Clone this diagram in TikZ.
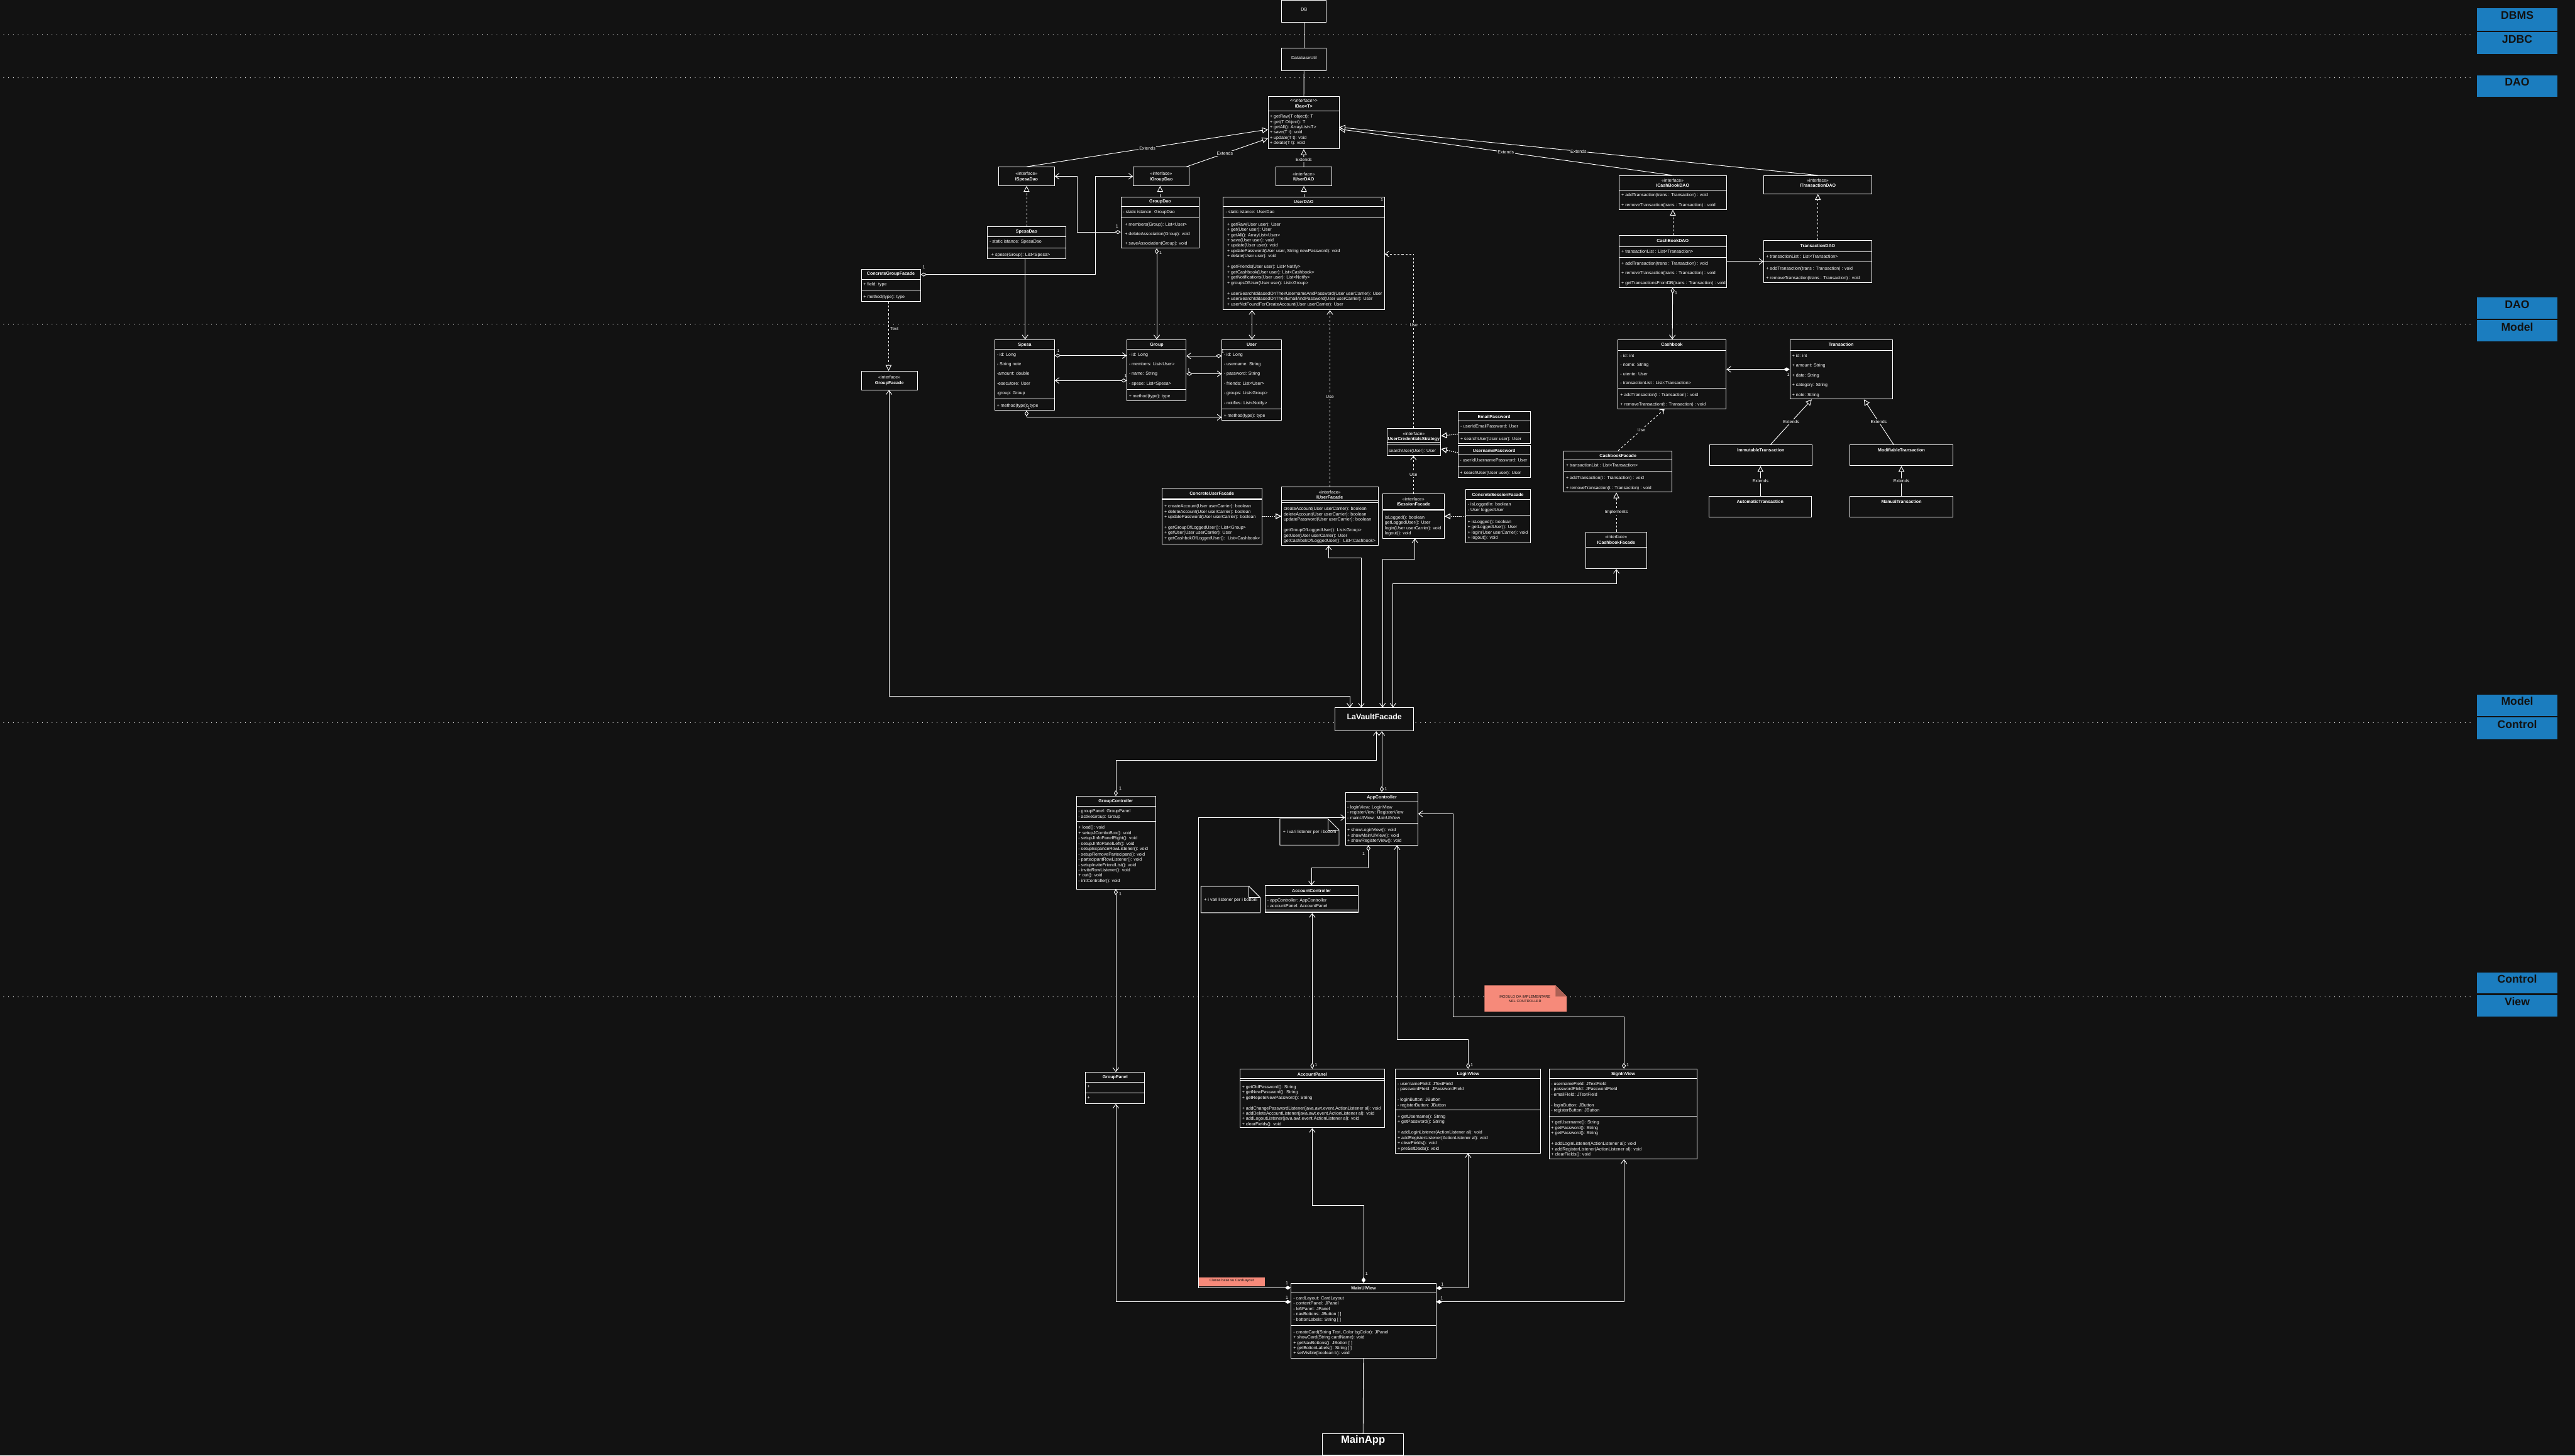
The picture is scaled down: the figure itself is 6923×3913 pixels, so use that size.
\documentclass[tikz,border=0pt]{standalone}
\usepackage{fontspec}
\setmainfont{Liberation Sans}
\usetikzlibrary{arrows.meta,positioning,fit,calc}
\definecolor{bgc}{RGB}{18,18,18}
\definecolor{layerblue}{RGB}{27,125,191}
\definecolor{notered}{RGB}{246,138,122}

\begin{document}
\begin{tikzpicture}[
  x=0.02cm, y=-0.02cm,
  wire/.style={draw=white, line width=0.9pt},
  cls/.style ={draw=white, line width=0.9pt, fill=bgc, inner sep=0pt,
               text=white, font=\fontsize{6.8}{8}\selectfont},
  layer/.style={fill=layerblue, inner sep=0pt, text=bgc,
               font=\fontsize{17}{19}\selectfont\bfseries},
  txt/.style ={anchor=north west, inner sep=0pt, align=left, text=white,
               font=\fontsize{6.8}{8.14}\selectfont},
  wide/.style={txt, font=\fontsize{6.8}{14.8}\selectfont},
  hdr/.style ={inner sep=0pt, align=center, text=white,
               font=\fontsize{6.8}{8}\selectfont},
  ttl/.style ={hdr, font=\fontsize{6.8}{8}\selectfont\bfseries},
  mult/.style={inner sep=0pt, text=white, font=\fontsize{6.8}{8}\selectfont},
  lbl/.style ={inner sep=1.5pt, fill=bgc, text=white, font=\fontsize{6.8}{8}\selectfont},
  dotsep/.style={draw=white, line width=1.2pt, line cap=round, dash pattern=on 0pt off 7.4pt},
  assoc/.style={wire, -{Straight Barb[length=6pt,width=9pt]}},
  both/.style ={wire, {Straight Barb[length=6pt,width=9pt]}-{Straight Barb[length=6pt,width=9pt]}},
  agg/.style  ={wire, {Diamond[fill=bgc,length=9pt,width=6pt]}-{Straight Barb[length=6pt,width=9pt]}},
  comp/.style ={wire, {Diamond[fill=white,length=9pt,width=6pt]}-{Straight Barb[length=6pt,width=9pt]}},
  ext/.style  ={wire, -{Triangle[fill=bgc,length=9pt,width=9pt]}},
  real/.style ={ext, dashed},
  dotreal/.style={ext, line width=1.2pt, dash pattern=on 1.5pt off 1.5pt},
  use/.style  ={assoc, dashed}
]

% background and layers
\fill[bgc] (0,0) rectangle (6923,3913);
\useasboundingbox (0,0) rectangle (6923,3913);

\draw[dotsep] (10,93)   -- (6650,93);
\draw[dotsep] (10,209)  -- (6650,209);
\draw[dotsep] (10,872)  -- (6650,872);
\draw[dotsep] (10,1943) -- (6650,1943);
\draw[dotsep] (10,2680) -- (6650,2680);

\node[layer, fit={(6660,22) (6875,82)}]     (lydbms)  {DBMS};
\node[layer, fit={(6660,86) (6875,146)}]    (lyjdbc)  {JDBC};
\node[layer, fit={(6660,203) (6875,260)}]   (lydao)   {DAO};
\node[layer, fit={(6660,800) (6875,857)}]   (lydaob)  {DAO};
\node[layer, fit={(6660,861) (6875,918)}]   (lymodel) {Model};
\node[layer, fit={(6660,1868) (6875,1925)}] (lymodelb){Model};
\node[layer, fit={(6660,1929) (6875,1987)}] (lyctrl)  {Control};
\node[layer, fit={(6660,2614) (6875,2671)}] (lyctrlb) {Control};
\node[layer, fit={(6660,2675) (6875,2733)}] (lyview)  {View};

% DBMS / JDBC
\node[cls, fit={(3446,0) (3566,60)}]    (db)     {DB};
\node[cls, fit={(3446,130) (3566,190)}] (dbutil) {DatabaseUtil};

% DAO interfaces
\node[cls, fit={(3410,260) (3600,400)}] (idao) {};
\draw[wire] (3410,299) -- (3600,299);
\node[hdr] at (3505,278) {\itshape <{}<Interface>{}>\\\textbf{IDao<T>}};
\node[txt] at (3414,308) {+ getRaw(T object): T\\+ get(T Object): T\\+ getAll(): ArrayList<T>\\
  + save(T t): void\\+ update(T t): void\\+ delate(T t): void};

\node[cls, fit={(2685,449) (2835,499)}] (ispesadao) {};
\node[hdr] at (2760,475) {«interface»\\\textbf{ISpesaDao}};
\node[cls, fit={(3047,449) (3197,499)}] (igroupdao) {};
\node[hdr] at (3122,475) {«interface»\\\textbf{IGroupDao}};
\node[cls, fit={(3430,449) (3581,499)}] (iuserdao) {};
\node[hdr] at (3505,475) {«interface»\\\textbf{IUserDAO}};

\node[cls, fit={(4353,472) (4642,563)}] (icashbookdao) {};
\draw[wire] (4353,511) -- (4642,511);
\node[hdr] at (4497,492) {«interface»\\\textbf{ICashBookDAO}};
\node[wide] at (4359,520) {+ addTransaction(trans : Transaction) : void\\+ removeTransaction(trans : Transaction) : void};
\node[cls, fit={(4742,472) (5033,521)}] (itransactiondao) {};
\node[hdr] at (4887,492) {«interface»\\\textbf{ITransactionDAO}};

% DAO classes
\node[cls, fit={(2655,610) (2865,696)}] (spesadao) {};
\draw[wire] (2655,636) -- (2865,636);  \draw[wire] (2655,666) -- (2865,666);
\node[ttl] at (2760,623) {SpesaDao};
\node[txt] at (2660,645) {- static istance: SpesaDao};
\node[txt] at (2665,679) {+ spese(Group): List<Spesa>};

\node[cls, fit={(3014,529) (3224,667)}] (groupdao) {};
\draw[wire] (3014,555) -- (3224,555);  \draw[wire] (3014,585) -- (3224,585);
\node[ttl] at (3119,542) {GroupDao};
\node[txt] at (3019,564) {- static istance: GroupDao};
\node[wide] at (3024,598) {+ members(Group): List<User>\\+ delateAssociation(Group): void\\+ saveAssociation(Group): void};

\node[cls, fit={(3289,529) (3722,833)}] (userdao) {};
\draw[wire] (3289,555) -- (3722,555);  \draw[wire] (3289,585) -- (3722,585);
\node[ttl] at (3505,542) {UserDAO};
\node[mult] at (3715,537) {1};
\node[txt] at (3295,564) {- static istance: UserDao};
\node[txt] at (3299,598) {+ getRaw(User user): User\\+ get(User user): User\\+ getAll(): ArrayList<User>\\
  + save(User user): void\\+ update(User user): void\\+ updatePassword(User user, String newPassword): void\\
  + delate(User user): void\\[8.14pt]+ getFriends(User user): List<Notify>\\+ getCashbook(User user): List<Cashbook>\\
  + getNotifications(User user): List<Notify>\\+ groupsOfUser(User user): List<Group>\\[8.14pt]
  + userSearchIdBasedOnTheirUsernameAndPassword(User userCarrier): User\\
  + userSearchIdBasedOnTheirEmailAndPassword(User userCarrier): User\\
  + userNotFoundForCreateAccount(User userCarrier): User};

\node[cls, fit={(4353,633) (4642,773)}] (cashbookdao) {};
\draw[wire] (4353,663) -- (4642,663);  \draw[wire] (4353,692) -- (4642,692);
\node[ttl] at (4497,647) {CashBookDAO};
\node[txt] at (4359,672) {+ transactionList : List<Transaction>};
\node[wide] at (4359,703) {+ addTransaction(trans : Transaction) : void\\+ removeTransaction(trans : Transaction) : void\\
  + getTransactionsFromDB(trans : Transaction) : void};

\node[cls, fit={(4742,647) (5033,760)}] (transactiondao) {};
\draw[wire] (4742,677) -- (5033,677);  \draw[wire] (4742,704) -- (5033,704);
\node[ttl] at (4887,660) {TransactionDAO};
\node[txt] at (4748,685) {+ transactionList : List<Transaction>};
\node[wide] at (4748,717) {+ addTransaction(trans : Transaction) : void\\+ removeTransaction(trans : Transaction) : void};

\node[cls, fit={(2316,724) (2475,810)}] (cgroupfacade) {};
\draw[wire] (2316,751) -- (2475,751);  \draw[wire] (2316,780) -- (2475,780);
\node[ttl] at (2395,737) {ConcreteGroupFacade};
\node[mult] at (2484,718) {1};
\node[txt] at (2321,759) {+ field: type};
\node[txt] at (2321,793) {+ method(type): type};

% Model
\node[cls, fit={(2316,998) (2466,1048)}] (groupfacade) {};
\node[hdr] at (2391,1023) {«interface»\\\textbf{GroupFacade}};

\node[cls, fit={(2675,913) (2835,1103)}] (spesa) {};
\draw[wire] (2675,939) -- (2835,939);  \draw[wire] (2675,1073) -- (2835,1073);
\node[ttl] at (2755,927) {Spesa};
\node[wide] at (2680,948) {- id: Long\\- String note\\-amount: double\\-esecutore: User\\-group: Group};
\node[txt] at (2680,1086) {+ method(type): type};

\node[cls, fit={(3030,913) (3189,1077)}] (group) {};
\draw[wire] (3030,939) -- (3189,939);  \draw[wire] (3030,1047) -- (3189,1047);
\node[ttl] at (3110,927) {Group};
\node[wide] at (3035,948) {- id: Long\\- members: List<User>\\- name: String\\- spese: List<Spesa>};
\node[txt] at (3035,1060) {+ method(type): type};

\node[cls, fit={(3285,913) (3445,1129)}] (user) {};
\draw[wire] (3285,939) -- (3445,939);  \draw[wire] (3285,1099) -- (3445,1099);
\node[ttl] at (3365,927) {User};
\node[wide] at (3290,948) {- id: Long\\- username: String\\- password: String\\- friends: List<User>\\
  - groups: List<Group>\\- notifies: List<Notify>};
\node[txt] at (3290,1112) {+ method(type): type};

\node[cls, fit={(4350,913) (4641,1099)}] (cashbook) {};
\draw[wire] (4350,943) -- (4641,943);  \draw[wire] (4350,1043) -- (4641,1043);
\node[ttl] at (4495,927) {Cashbook};
\node[txt, font=\fontsize{6.8}{13.7}\selectfont] at (4356,952) {- id: int\\- nome: String\\- utente: User\\
  - transactionList : List<Transaction>};
\node[wide] at (4356,1056) {+ addTransaction(t : Transaction) : void\\+ removeTransaction(t : Transaction) : void};

\node[cls, fit={(4812,913) (5088,1073)}] (transaction) {};
\draw[wire] (4812,943) -- (5088,943);
\node[ttl] at (4950,927) {Transaction};
\node[wide] at (4818,952) {+ id: int\\+ amount: String\\+ date: String\\+ category: String\\+ note: String};

\node[cls, fit={(4597,1196) (4871,1252)}] (immutable) {};
\node[ttl] at (4734,1210) {ImmutableTransaction};
\node[cls, fit={(4974,1196) (5250,1252)}] (modifiable) {};
\node[ttl] at (5112,1210) {ModifiableTransaction};
\node[cls, fit={(4595,1334) (4870,1390)}] (automatic) {};
\node[ttl] at (4732,1348) {AutomaticTransaction};
\node[cls, fit={(4974,1334) (5250,1390)}] (manual) {};
\node[ttl] at (5112,1348) {ManualTransaction};

% Facades
\node[cls, fit={(4205,1212) (4495,1323)}] (cashbookfacade) {};
\draw[wire] (4205,1237) -- (4495,1237);  \draw[wire] (4205,1267) -- (4495,1267);
\node[ttl] at (4350,1225) {CashbookFacade};
\node[txt] at (4210,1246) {+ transactionList : List<Transaction>};
\node[wide] at (4210,1280) {+ addTransaction(t : Transaction) : void\\+ removeTransaction(t : Transaction) : void};

\node[cls, fit={(4264,1430) (4427,1529)}] (icashbookfacade) {};
\draw[wire] (4264,1471) -- (4427,1471);
\node[hdr] at (4345,1451) {«interface»\\\textbf{ICashbookFacade}};

\node[cls, draw=white!60, line width=1.3pt, fit={(3729,1152) (3873,1224)}] (ucs) {};
\draw[white!60, line width=1.3pt] (3729,1189) -- (3873,1189);  \draw[white!60, line width=1.3pt] (3729,1194) -- (3873,1194);
\node[hdr] at (3801,1174) {«interface»\\\textbf{UserCredentialsStrategy}};
\node[txt] at (3733,1207) {searchUser(User): User};

\node[cls, fit={(3921,1106) (4114,1192)}] (emailpw) {};
\draw[wire] (3921,1132) -- (4114,1132);  \draw[wire] (3921,1162) -- (4114,1162);
\node[ttl] at (4017,1120) {EmailPassword};
\node[txt] at (3926,1141) {- userIdEmailPassword: User};
\node[txt] at (3926,1175) {+ searchUser(User user): User};

\node[cls, fit={(3920,1197) (4114,1283)}] (usernamepw) {};
\draw[wire] (3920,1223) -- (4114,1223);  \draw[wire] (3920,1253) -- (4114,1253);
\node[ttl] at (4017,1211) {UsernamePassword};
\node[txt] at (3925,1232) {- userIdUsernamePassword: User};
\node[txt] at (3925,1266) {+ searchUser(User user): User};

\node[cls, fit={(3718,1328) (3883,1447)}] (isessionfacade) {};
\draw[wire] (3718,1369) -- (3883,1369);  \draw[wire] (3718,1373) -- (3883,1373);
\node[hdr] at (3800,1349) {«interface»\\\textbf{ISessionFacade}};
\node[txt] at (3723,1386) {isLogged(): boolean\\getLoggedUser(): User\\login(User userCarrier): void\\logout(): void};

\node[cls, fit={(3941,1316) (4114,1459)}] (csessionfacade) {};
\draw[wire] (3941,1342) -- (4114,1342);  \draw[wire] (3941,1385) -- (4114,1385);
\node[ttl] at (4027,1330) {ConcreteSessionFacade};
\node[txt] at (3946,1351) {- isLoggedIn: boolean\\- User loggedUser};
\node[txt] at (3946,1398) {+ isLogged(): boolean\\+ getLoggedUser(): User\\+ login(User userCarrier): void\\+ logout(): void};

\node[cls, fit={(3124,1313) (3393,1462)}] (cuserfacade) {};
\draw[wire] (3124,1339) -- (3393,1339);  \draw[wire] (3124,1343) -- (3393,1343);
\node[ttl] at (3258,1327) {ConcreteUserFacade};
\node[txt] at (3130,1356) {+ createAccount(User userCarrier): boolean\\+ deleteAccount(User userCarrier): boolean\\
  + updatePassword(User userCarrier): boolean\\[8.14pt]+ getGroupOfLoggedUser(): List<Group>\\
  + getUser(User userCarrier): User\\+ getCashbokOfLoggedUser():~ List<Cashbook>};

\node[cls, fit={(3446,1309) (3705,1466)}] (iuserfacade) {};
\draw[wire] (3446,1347) -- (3705,1347);  \draw[wire] (3446,1351) -- (3705,1351);
\node[hdr] at (3575,1330) {«interface»\\\textbf{IUserFacade}};
\node[txt] at (3451,1363) {createAccount(User userCarrier): boolean\\deleteAccount(User userCarrier): boolean\\
  updatePassword(User userCarrier): boolean\\[8.14pt]getGroupOfLoggedUser(): List<Group>\\
  getUser(User userCarrier): User\\getCashbokOfLoggedUser():~ List<Cashbook>};

\node[cls, font=\fontsize{12}{14}\selectfont\bfseries, fit={(3589,1903) (3801,1965)}] (lavault) {LaVaultFacade};

% Control
\node[cls, fit={(2894,2141) (3107,2390)}] (gcontroller) {};
\draw[wire] (2894,2167) -- (3107,2167);  \draw[wire] (2894,2208) -- (3107,2208);
\node[ttl] at (3000,2154) {GroupController};
\node[txt] at (2899,2176) {- groupPanel: GroupPanel\\- activeGroup: Group};
\node[txt] at (2899,2220) {+ load(): void\\+ setupJComboBox(): void\\- setupJInfoPanelRight(): void\\- setupJInfoPanelLeft(): void\\
  - setupExpanceRowListener(): void\\- setupRemovePartecipant(): void\\- partecipantRowListener(): void\\
  - setupInviteFriendList(): void\\- inviteRowListener(): void\\+ out(): void\\- initController(): void};

\node[cls, fit={(3617,2130) (3812,2272)}] (appcontroller) {};
\draw[wire] (3617,2156) -- (3812,2156);  \draw[wire] (3617,2214) -- (3812,2214);
\node[ttl] at (3715,2144) {AppController};
\node[txt] at (3622,2165) {- loginView: LoginView\\- registerView: RegisterView\\- mainUIView: MainUIView};
\node[txt] at (3622,2227) {+ showLoginView(): void\\+ showMainUIView(): void\\+ showRegisterView(): void};

\draw[wire, fill=bgc] (3441,2201) -- (3570,2201) -- (3600,2231) -- (3600,2272) -- (3441,2272) -- cycle;
\draw[wire] (3570,2201) -- (3570,2231) -- (3600,2231);
\node[mult, anchor=west] (noteapp) at (3449,2237) {+ i vari listener per i bottoni};
\draw[wire, fill=bgc] (3229,2383) -- (3358,2383) -- (3388,2413) -- (3388,2454) -- (3229,2454) -- cycle;
\draw[wire] (3358,2383) -- (3358,2413) -- (3388,2413);
\node[mult, anchor=west] (noteacc) at (3237,2419) {+ i vari listener per i bottoni};

\node[cls, fit={(3401,2381) (3652,2454)}] (acccontroller) {};
\draw[wire] (3401,2407) -- (3652,2407);  \draw[wire] (3401,2447) -- (3652,2447);  \draw[wire] (3401,2451) -- (3652,2451);
\node[ttl] at (3526,2395) {AccountController};
\node[txt] at (3407,2416) {- appController: AppController\\- accountPanel: AccountPanel};

\fill[notered] (3991,2649) -- (4182,2649) -- (4212,2679) -- (4212,2720) -- (3991,2720) -- cycle;
\fill[notered!70!black] (4182,2649) -- (4182,2679) -- (4212,2679) -- cycle;
\node[inner sep=0pt, text=bgc, font=\fontsize{5.5}{6.5}\selectfont, align=center]
      (notectrl) at (4100,2686) {MODULO DA IMPLEMENTARE\\NEL CONTROLLER};

% View
\node[cls, fit={(2918,2883) (3077,2967)}] (grouppanel) {};
\draw[wire] (2918,2909) -- (3077,2909);  \draw[wire] (2918,2938) -- (3077,2938);
\node[ttl] at (2998,2896) {GroupPanel};
\node[txt] at (2923,2918) {+};
\node[txt] at (2923,2948) {+};

\node[cls, fit={(3333,2874) (3722,3032)}] (accpanel) {};
\draw[wire] (3333,2900) -- (3722,2900);  \draw[wire] (3333,2904) -- (3722,2904);
\node[ttl] at (3528,2888) {AccountPanel};
\node[txt] at (3339,2917) {+ getOldPassword(): String\\+ getNewPassword(): String\\+ getRepeteNewPassword(): String\\[8.14pt]
  + addChangePasswordListener(java.awt.event.ActionListener al): void\\
  + addDeleteAccountListener(java.awt.event.ActionListener al): void\\
  + addLogoutListener(java.awt.event.ActionListener al): void\\+ clearFields(): void};

\node[cls, fit={(3752,2874) (4142,3100)}] (loginview) {};
\draw[wire] (3752,2900) -- (4142,2900);  \draw[wire] (3752,2984) -- (4142,2984);
\node[ttl] at (3947,2888) {LoginView};
\node[txt] at (3757,2909) {- usernameFIeld: JTextField\\- passwordFIeld: JPasswordFIeld\\[8.14pt]
  - loginButton: JButton\\- registerButton: JButton};
\node[txt] at (3757,2997) {+ getUsername(): String\\+ getPassword(): String\\[8.14pt]
  + addLoginListener(ActionListener al): void\\+ addRegisterListener(ActionListener al): void\\
  + clearFields(): void\\+ preSetDada(): void};

\node[cls, fit={(4165,2874) (4562,3116)}] (signinview) {};
\draw[wire] (4165,2900) -- (4562,2900);  \draw[wire] (4165,3000) -- (4562,3000);
\node[ttl] at (4364,2888) {SignInView};
\node[txt] at (4170,2909) {- usernameFIeld: JTextField\\- passwordFIeld: JPasswordFIeld\\- emailFIeld: JTextField\\[8.14pt]
  - loginButton: JButton\\- registerButton: JButton};
\node[txt] at (4170,3013) {+ getUsername(): String\\+ getPassword(): String\\+ getPassword(): String\\[8.14pt]
  + addLoginListener(ActionListener al): void\\+ addRegisterListener(ActionListener al): void\\+ clearFields(): void};

\node[cls, fit={(3471,3450) (3861,3651)}] (mainui) {};
\draw[wire] (3471,3476) -- (3861,3476);  \draw[wire] (3471,3563) -- (3861,3563);
\node[ttl] at (3666,3463) {MainUIView};
\node[txt] at (3477,3485) {- cardLayout: CardLayout\\- contentPanel: JPanel\\- leftPanel: JPanel\\
  - navBottons: JButton [ ]\\- bottonLabels: String [ ]};
\node[txt] at (3477,3576) {- createCard(String Text, Color bgColor): JPanel\\+ showCard(String cardName): void\\
  + getNavBottons(): JBotton [ ]\\+ getBottonLabels(): String [ ]\\+ setVisible(boolean b): void};

\node[cls, font=\fontsize{16}{18}\selectfont\bfseries, fit={(3556,3855) (3773,3912)}] (mainapp) {MainApp};

% Arrows DB / DAO
\draw[wire] (db) -- (dbutil);
\draw[wire] (dbutil) -- (idao);
\draw[ext] (ispesadao.north) -- node[lbl, pos=0.5]{Extends} (idao.west |- 0,348);
\draw[ext] (igroupdao.north -| 3190,0) -- node[lbl, pos=0.47]{Extends} (idao.west |- 0,372);
\draw[ext] (iuserdao) -- node[lbl, pos=0.4]{Extends} (idao);
\draw[ext] (icashbookdao.north -| 4496,0) -- node[lbl, pos=0.5]{Extends} (idao.east |- 0,347);
\draw[ext] (itransactiondao.north -| 4887,0) -- node[lbl, pos=0.5]{Extends} (idao.east |- 0,342);

\draw[real] (spesadao) -- (ispesadao);
\draw[real] (groupdao.north) -- (groupdao.north |- igroupdao.south);
\draw[real] (userdao) -- (iuserdao);
\draw[real] (cashbookdao) -- (icashbookdao);
\draw[real] (transactiondao) -- (itransactiondao);

\draw[agg] (groupdao.west |- 0,624) -- (2896,624) |- (ispesadao.east |- 0,474);
\node[mult] at (3003,609) {1};
\draw[agg] (cgroupfacade.east |- 0,738) -- (2945,738) |- (igroupdao.west |- 0,474);
\draw[real] (cgroupfacade.south -| 2389,0) -- node[mult, right=2pt, pos=0.39]{Text} (groupfacade.north -| 2389,0);
\draw[assoc] (spesadao.south -| 2756,0) -- (spesa.north -| 2756,0);
\draw[agg] (groupdao.south -| 3110,0) -- (group.north -| 3110,0);
\node[mult] at (3120,680) {1};
\draw[both] (userdao.south -| 3366,0) -- (user.north -| 3366,0);
\draw[use] (ucs.north) -- node[lbl, pos=0.59]{Use} (ucs.north |- 0,683) -- (userdao.east |- 0,683);
\draw[use] (iuserfacade.north) -- node[lbl, pos=0.51]{Use} (iuserfacade.north |- userdao.south);
\draw[assoc] (cashbookdao.east |- 0,703) -- (transactiondao.west |- 0,703);
\draw[agg] (cashbookdao) -- (cashbook);
\node[mult] at (4506,787) {1};

% Arrows Model
\draw[agg] (spesa.east |- 0,956) -- (group.west |- 0,956);
\node[mult] at (2845,943) {1};
\draw[agg] (group.west |- 0,1023) -- (spesa.east |- 0,1023);
\node[mult] at (3026,1010) {1};
\draw[agg] (user.west |- 0,957) -- (group.east |- 0,957);
\node[mult] at (3287,945) {1};
\draw[agg] (group.east |- 0,1005) -- (user.west |- 0,1005);
\node[mult] at (3196,995) {1};
\draw[agg] (spesa.south -| 2760,0) -- (2760,1122) -- (user.west |- 0,1122);
\node[mult] at (2766,1095) {1};
\draw[comp] (transaction.west |- 0,993) -- (cashbook.east |- 0,993);
\node[mult] at (4808,1007) {1};
\draw[ext] (immutable.north -| 4760,0) -- node[lbl, pos=0.5]{Extends} (transaction.south -| 4871,0);
\draw[ext] (modifiable.north -| 5091,0) -- node[lbl, pos=0.5]{Extends} (transaction.south -| 5011,0);
\draw[ext] (automatic.north -| 4733,0) -- node[lbl, pos=0.5]{Extends} (immutable.south -| 4733,0);
\draw[ext] (manual.north -| 5112,0) -- node[lbl, pos=0.5]{Extends} (modifiable.south -| 5112,0);
\draw[use] (cashbookfacade.north -| 4351,0) -- node[lbl, pos=0.5]{Use} (cashbook.south -| 4475,0);
\draw[real] (icashbookfacade) -- node[lbl, pos=0.49]{Implements} (icashbookfacade |- cashbookfacade.south);
\draw[dotreal] (emailpw.west |- 0,1167) -- (ucs.east |- 0,1172);
\draw[dotreal] (usernamepw.west |- 0,1217) -- (ucs.east |- 0,1207);
\draw[use] (isessionfacade.north -| 3800,0) -- node[lbl, pos=0.5]{Use} (ucs.south -| 3800,0);
\draw[dotreal] (csessionfacade.west |- 0,1388) -- (isessionfacade.east |- 0,1388);
\draw[dotreal] (cuserfacade.east |- 0,1388) -- (iuserfacade.west |- 0,1388);

% Facade entry point
\draw[both] (lavault.north -| 3629,0) -- (3629,1872) -| (groupfacade.south -| 2390,0);
\draw[both] (lavault.north -| 3660,0) -- (3660,1500) -| (iuserfacade.south -| 3572,0);
\draw[both] (lavault.north -| 3717,0) -- (3717,1504) -| (isessionfacade.south -| 3804,0);
\draw[both] (lavault.north -| 3745,0) -- (3745,1570) -| (icashbookfacade.south);

% Arrows Control
\draw[agg] (gcontroller.north -| 3000,0) -- (3000,2044) -| (lavault.south -| 3700,0);
\node[mult] at (3012,2120) {1};
\draw[agg] (appcontroller.north -| 3715,0) -- (lavault.south -| 3715,0);
\node[mult] at (3726,2122) {1};
\draw[agg] (gcontroller.south -| 3000,0) -- (grouppanel.north -| 3000,0);
\node[mult] at (3012,2404) {1};
\draw[agg] (appcontroller.south -| 3679,0) -- (3679,2334) -| (acccontroller.north -| 3526,0);
\node[mult] at (3666,2295) {1};
\draw[agg] (accpanel.north -| 3528,0) -- (acccontroller.south -| 3528,0);
\node[mult] at (3538,2864) {1};
\draw[agg] (loginview.north -| 3947,0) -- (3947,2795) -| (appcontroller.south -| 3756,0);
\node[mult] at (3957,2864) {1};
\draw[agg] (signinview.north -| 4366,0) -- (4366,2733) -| (3907,2188) -- (appcontroller.east |- 0,2188);
\node[mult] at (4376,2864) {1};

% Arrows View
\draw[comp] (mainui.west |- 0,3462) -- (3223,3462) |- (appcontroller.west |- 0,2198);
\node[mult] at (3460,3450) {1};
\node[fill=notered, inner sep=0pt, text=bgc, font=\fontsize{5.5}{6.5}\selectfont,
      fit={(3223,3435) (3400,3458)}] (notemain) {Classe base su CardLayout};
\draw[comp] (mainui.west |- 0,3500) -| (grouppanel.south -| 3000,0);
\node[mult] at (3460,3489) {1};
\draw[comp] (mainui.north) -- (3666,3241) -| (accpanel.south -| 3528,0);
\node[mult] at (3674,3425) {1};
\draw[comp] (mainui.east |- 0,3463) -| (loginview.south -| 3947,0);
\node[mult] at (3878,3453) {1};
\draw[comp] (mainui.east |- 0,3500) -| (signinview.south -| 4366,0);
\node[mult] at (3876,3490) {1};
\draw[wire] (mainui) -- (mainapp);

\end{tikzpicture}
\end{document}
